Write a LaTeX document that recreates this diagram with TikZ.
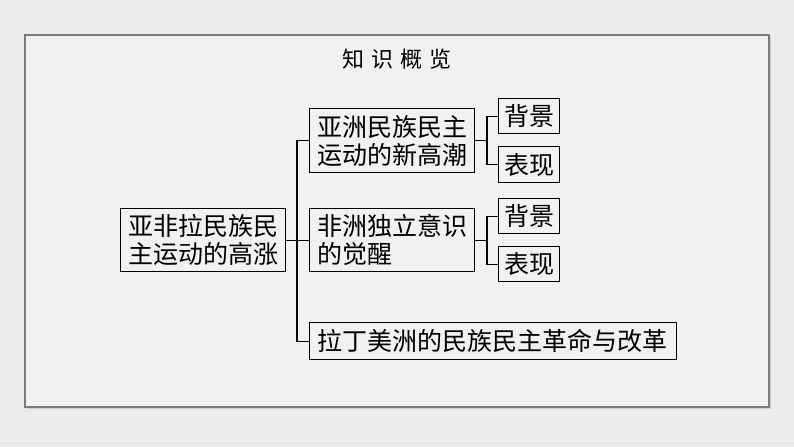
\documentclass[tikz,border=0pt]{standalone}
\usepackage{fontspec}
\newfontfamily\cjk{Noto Sans CJK SC}
\definecolor{bgc}{HTML}{EBEBEB}
\definecolor{framefill}{HTML}{F1F1F1}
\definecolor{framecol}{HTML}{7A7A7A}
\tikzset{
  box/.style={draw=black, line width=1.3pt, fill=framefill, inner ysep=0pt, inner xsep=7.5pt,
    font=\cjk\fontsize{25}{28}\selectfont, anchor=north west, align=left},
  small/.style={box, align=center, inner xsep=5.5pt, text width=50pt},
  conn/.style={draw=black, line width=1.3pt}
}
\begin{document}
\begin{tikzpicture}[x=1pt,y=-1pt]
\useasboundingbox (0,0) rectangle (794,447);
\fill[bgc] (0,0) rectangle (794,447);
\fill[gray!40] (27,37) rectangle (771,409);
\draw[framecol, line width=1.2pt, fill=framefill] (25,35) rectangle (769,407);
\node[font=\cjk\fontsize{22}{26}\selectfont] (title) at (397,59) {知\hspace{7pt}识\hspace{7pt}概\hspace{7pt}览};
\node[box, text width=150pt, minimum height=63pt] (root) at (120,208) {亚非拉民族民\\主运动的高涨};
\node[box, text width=150pt, minimum height=64pt] (A) at (309,108) {亚洲民族民主\\运动的新高潮};
\node[box, text width=150pt, minimum height=63pt] (B) at (309,208) {非洲独立意识\\的觉醒};
\node[box, text width=352pt, minimum height=37pt] (C) at (309,322) {拉丁美洲的民族民主革命与改革};
\node[small, minimum height=35pt] (A1) at (498,98) {背景};
\node[small, minimum height=36pt] (A2) at (498,146) {表现};
\node[small, minimum height=35pt] (B1) at (498,198) {背景};
\node[small, minimum height=35pt] (B2) at (498,246) {表现};
\coordinate (tr) at (297,0);
\coordinate (sa) at (487,0);
\draw[conn] (root.east) -- (B.west);
\draw[conn] (A.west) -- (A.west -| tr) -- (C.west -| tr) -- (C.west);
\draw[conn] (A.east) -- (A.east -| sa);
\draw[conn] (A1.west) -- (A1.west -| sa) -- (A2.west -| sa) -- (A2.west);
\draw[conn] (B.east) -- (B.east -| sa);
\draw[conn] (B1.west) -- (B1.west -| sa) -- (B2.west -| sa) -- (B2.west);
\end{tikzpicture}
\end{document}
